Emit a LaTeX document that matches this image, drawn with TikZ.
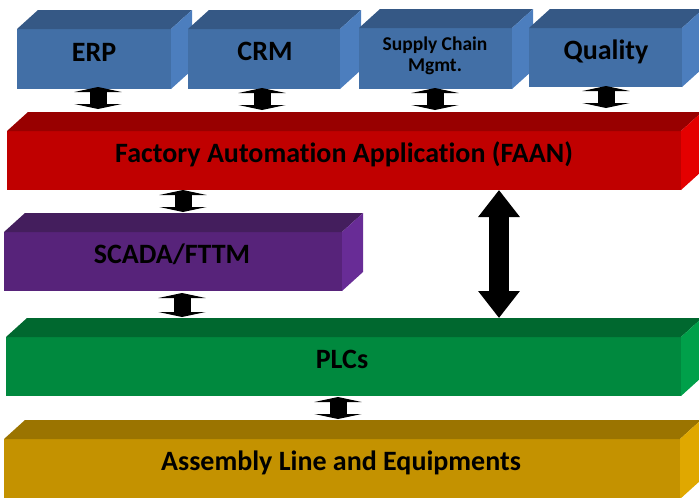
\documentclass[tikz,border=0pt]{standalone}
\usepackage{fontspec}
\setmainfont{Carlito}[Ligatures=NoCommon]
\usetikzlibrary{arrows.meta,calc}
\definecolor{bluF}{RGB}{66,111,166}
\definecolor{bluT}{RGB}{53,88,133}
\definecolor{bluS}{RGB}{76,126,190}
\definecolor{redF}{RGB}{192,0,0}
\definecolor{redT}{RGB}{152,0,0}
\definecolor{redS}{RGB}{228,0,0}
\definecolor{purF}{RGB}{87,35,122}
\definecolor{purT}{RGB}{68,30,93}
\definecolor{purS}{RGB}{104,44,150}
\definecolor{grnF}{RGB}{0,137,62}
\definecolor{grnT}{RGB}{0,104,47}
\definecolor{grnS}{RGB}{0,160,74}
\definecolor{golF}{RGB}{196,146,0}
\definecolor{golT}{RGB}{155,116,0}
\definecolor{golS}{RGB}{224,168,0}
\tikzset{
  face/.style={rectangle, inner sep=0pt, outer sep=0pt, draw=none},
  lbl/.style={font=\bfseries\fontsize{28}{28}\selectfont, inner sep=0pt, text height=17.7pt, text depth=0pt},
  sublbl/.style={font=\bfseries\fontsize{19.5}{20}\selectfont, inner sep=0pt, anchor=base},
  sarr/.style={line width=17pt, black, {Triangle[length=5pt,width=47pt]}-{Triangle[length=5pt,width=47pt]}},
  barr/.style={line width=20pt, black, {Triangle[length=27pt,width=40pt]}-{Triangle[length=27pt,width=40pt]}},
}
\newcommand\prismfaces[3]{%
  \fill[#2] (#1.north west) -- ++(21,-19) -- ([shift={(21,-19)}]#1.north east) -- (#1.north east) -- cycle;
  \fill[#3] (#1.north east) -- ++(21,-19) -- ([shift={(21,-19)}]#1.south east) -- (#1.south east) -- cycle;
}
\begin{document}
\begin{tikzpicture}[x=1pt,y=-1pt]
\useasboundingbox (0,0) rectangle (699,498);
\clip (0,0) rectangle (699,498);
% top row
\node[face, fill=bluF, minimum width=154pt, minimum height=60pt] (erp) at (94,59) {};
\prismfaces{erp}{bluT}{bluS}
\node[face, fill=bluF, minimum width=152pt, minimum height=60pt] (crm) at (264,59) {};
\prismfaces{crm}{bluT}{bluS}
\node[face, fill=bluF, minimum width=153pt, minimum height=61pt] (sup) at (435.5,58.5) {};
\prismfaces{sup}{bluT}{bluS}
\node[face, fill=bluF, minimum width=153pt, minimum height=59pt] (qua) at (605.5,57.5) {};
\prismfaces{qua}{bluT}{bluS}
% layers
\node[face, fill=redF, minimum width=674pt, minimum height=59pt] (faan) at (344,160.5) {};
\prismfaces{faan}{redT}{redS}
\node[face, fill=purF, minimum width=338pt, minimum height=59pt] (scada) at (173,261.5) {};
\prismfaces{scada}{purT}{purS}
\node[face, fill=grnF, minimum width=675pt, minimum height=59pt] (plc) at (343.5,366.5) {};
\prismfaces{plc}{grnT}{grnS}
\node[face, fill=golF, minimum width=676pt, minimum height=60pt] (asm) at (342,469) {};
\prismfaces{asm}{golT}{golS}
% labels
\node[lbl] (erpT) at (94,53) {ERP};
\node[lbl] (crmT) at (265,51.5) {CRM};
\node[sublbl] (supT1) at (435,50.7) {Supply Chain};
\node[sublbl] (supT2) at (435,71) {Mgmt.};
\node[lbl] (quaT) at (606,51) {Quality};
\node[lbl] (faanT) at (344,154) {Factory Automation Application (FAAN)};
\node[lbl] (scadaT) at (172,255) {SCADA/FTTM};
\node[lbl] (plcT) at (342,360) {PLCs};
\node[lbl] (asmT) at (341,462) {Assembly Line and Equipments};
% arrows
\draw[sarr] ([xshift=4pt,yshift=2pt]erp.south) -- +(0,22);
\draw[sarr] ([xshift=-2pt,yshift=1pt]crm.south) -- +(0,22);
\draw[sarr] ([xshift=-0.5pt,yshift=1pt]sup.south) -- +(0,22);
\draw[sarr] ([xshift=0.5pt,yshift=1pt]qua.south) -- +(0,22);
\draw[sarr] ([xshift=10pt]scada.north |- faan.south) -- +(0,22);
\draw[sarr] ([xshift=9pt,yshift=-2pt]scada.south) -- +(0,24);
\draw[sarr] ([xshift=-5.5pt,yshift=-1pt]plc.south) -- +(0,22);
\draw[barr] ([xshift=155pt]faan.south) -- +(0,128);
\end{tikzpicture}
\end{document}
